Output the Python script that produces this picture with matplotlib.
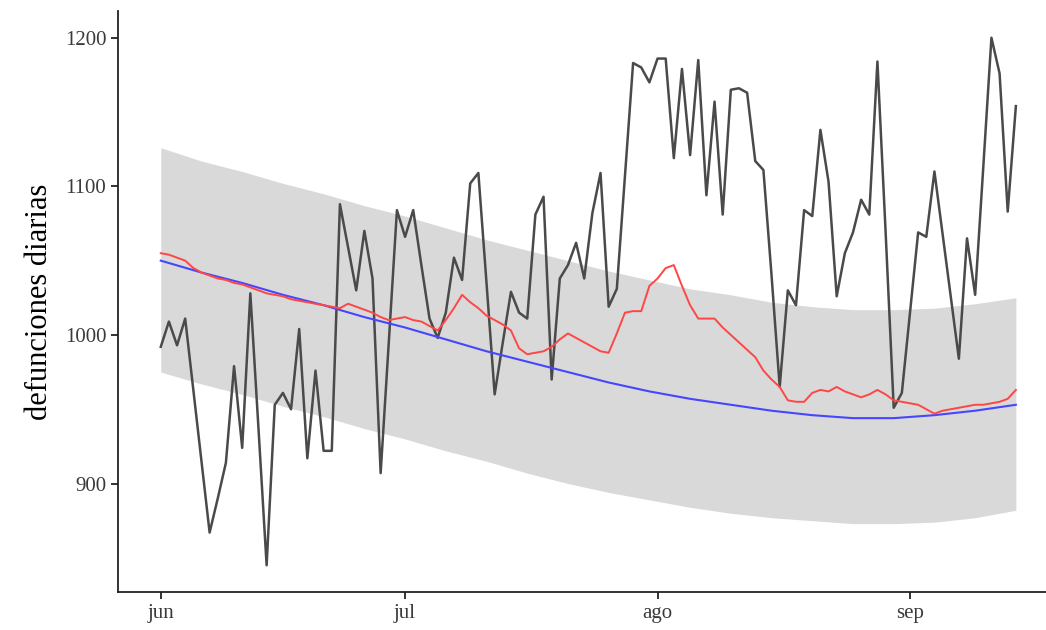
import pandas as pd
import matplotlib
matplotlib.use("Agg")
import matplotlib.pyplot as plt

# defunciones diarias observadas, 1 jun - 14 sep
observadas = [
    992, 1009, 993, 1011, 963, 915, 867, 890, 914, 979,
    924, 1028, 937, 845, 953, 961, 950, 1004, 917, 976,
    922, 922, 1088, 1059, 1030, 1070, 1038, 907, 995, 1084,
    1066, 1084, 1047, 1011, 998, 1015, 1052, 1037, 1102, 1109,
    1035, 960, 995, 1029, 1015, 1011, 1081, 1093, 970, 1038,
    1047, 1062, 1038, 1082, 1109, 1019, 1031, 1107, 1183, 1180,
    1170, 1186, 1186, 1119, 1179, 1121, 1185, 1094, 1157, 1081,
    1165, 1166, 1163, 1117, 1111, 1040, 965, 1030, 1020, 1084,
    1080, 1138, 1103, 1026, 1055, 1069, 1091, 1081, 1184, 1070,
    951, 961, 1015, 1069, 1066, 1110, 1068, 1026, 984, 1065,
    1027, 1113, 1200, 1176, 1083, 1154,
]

# media movil
media_movil = [
    1055, 1054, 1052, 1050, 1045, 1042, 1040, 1038, 1037, 1035,
    1034, 1032, 1030, 1028, 1027, 1026, 1024, 1023, 1022, 1021,
    1020, 1019, 1018, 1021, 1019, 1017, 1015, 1012, 1010, 1011,
    1012, 1010, 1009, 1006, 1003, 1010, 1018, 1027, 1022, 1018,
    1013, 1010, 1007, 1003, 991, 987, 988, 989, 992, 997,
    1001, 998, 995, 992, 989, 988, 1001, 1015, 1016, 1016,
    1033, 1038, 1045, 1047, 1033, 1020, 1011, 1011, 1011, 1005,
    1000, 995, 990, 985, 976, 970, 965, 956, 955, 955,
    961, 963, 962, 965, 962, 960, 958, 960, 963, 960,
    956, 955, 954, 953, 950, 947, 949, 950, 951, 952,
    953, 953, 954, 955, 957, 963,
]

# tendencia suavizada y banda, cada 5 dias
dias_tendencia = [0, 5, 10, 15, 20, 25, 30, 35, 40, 45, 50,
                  55, 60, 65, 70, 75, 80, 85, 90, 95, 100, 105]
tendencia = [1050, 1042, 1035, 1027, 1020, 1012, 1005, 997, 989, 982, 975,
             968, 962, 957, 953, 949, 946, 944, 944, 946, 949, 953]
banda_sup = [1126, 1117, 1110, 1102, 1095, 1087, 1080, 1072, 1064, 1057, 1050,
             1043, 1037, 1031, 1027, 1022, 1019, 1017, 1017, 1018, 1021, 1025]
banda_inf = [975, 967, 960, 952, 945, 937, 930, 922, 915, 907, 900,
             894, 889, 884, 880, 877, 875, 873, 873, 874, 877, 882]

meses = ["jun", "jul", "ago", "sep"]

fechas = pd.date_range("2020-06-01", periods=len(observadas), freq="D")
fechas_tend = fechas[0] + pd.to_timedelta(dias_tendencia, unit="D")

plt.rcParams["font.family"] = ["Liberation Serif", "DejaVu Serif"]

fig = plt.figure(figsize=(10.46, 6.30), dpi=100)
ax = fig.add_axes([118 / 1046, 1 - 592 / 630, 1 - 118 / 1046, (592 - 11) / 630])

ax.fill_between(fechas_tend, banda_inf, banda_sup, color="#d9d9d9", lw=0)
ax.plot(fechas, observadas, color="#4a4a4a", lw=1.8)
ax.plot(fechas_tend, tendencia, color="#4646ff", lw=1.5)
ax.plot(fechas, media_movil, color="#ff4646", lw=1.4)

ax.set_xlim(fechas[0] - pd.Timedelta(days=5.25), fechas[0] + pd.Timedelta(days=108.7))
ax.set_ylim(827, 1218)

inicio_mes = pd.date_range("2020-06-01", periods=4, freq="MS")
ax.set_xticks(inicio_mes)
ax.set_xticklabels(meses)
ax.set_yticks([900, 1000, 1100, 1200])

for lado in ["top", "right"]:
    ax.spines[lado].set_visible(False)
for lado in ["left", "bottom"]:
    ax.spines[lado].set_color("#222222")
    ax.spines[lado].set_linewidth(1.3)

ax.tick_params(axis="both", colors="#222222", labelsize=15, length=5, width=1.3,
               labelcolor="#3a3a3a")
ax.set_ylabel("defunciones diarias", fontsize=22, color="black", labelpad=8)

fig.savefig("out.png", dpi=100)
